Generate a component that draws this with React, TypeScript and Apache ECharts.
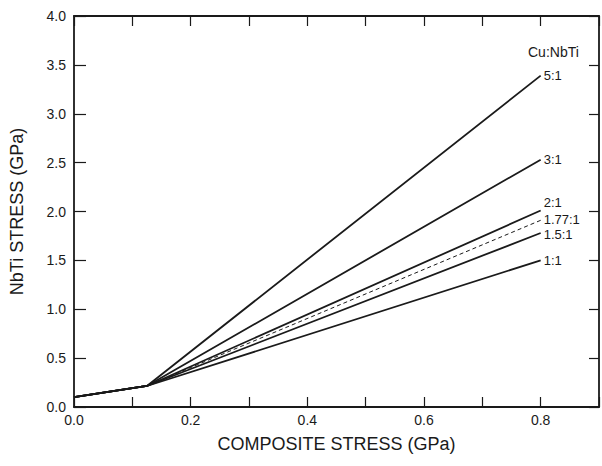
import React, { useEffect, useRef } from "react";
import * as echarts from "echarts";

const ratioLabels = ["5:1", "3:1", "2:1", "1.77:1", "1.5:1", "1:1"];
const xPoints = [0, 0.125, 0.8];
const startStress = [0.1, 0.215];
const endStress = [3.39, 2.53, 2.01, 1.91, 1.78, 1.5];
const dashed = [false, false, false, true, false, false];
const labelOffsets: [number, number][] = [[0, 0], [0, 0], [0, -8], [0, -1], [0, 1], [0, 0]];
const xTickLabels = ["0.0", "0.2", "0.4", "0.6", "0.8"];
const yTickLabels = ["0.0", "0.5", "1.0", "1.5", "2.0", "2.5", "3.0", "3.5", "4.0"];

const FONT = '"Liberation Sans", Arial, Helvetica, sans-serif';
const INK = "#1a1a1a";

export default function App() {
  const ref = useRef<HTMLDivElement>(null);
  useEffect(() => {
    document.body.style.margin = "0";
    const chart = echarts.init(ref.current!, null, { renderer: "svg" });
    const series = ratioLabels.map((name, i) => ({
      name,
      type: "line",
      data: [
        [xPoints[0], startStress[0]],
        [xPoints[1], startStress[1]],
        [xPoints[2], endStress[i]],
      ],
      symbol: "none",
      lineStyle: {
        color: INK,
        width: dashed[i] ? 1 : 1.8,
        type: dashed[i] ? [4, 3] : "solid",
      },
      endLabel: {
        show: true,
        formatter: name,
        color: INK,
        fontFamily: FONT,
        fontSize: 13,
        distance: 3,
        offset: labelOffsets[i],
      },
      z: dashed[i] ? 3 : 2,
    }));
    const axisLine = { show: true, onZero: false, lineStyle: { color: INK, width: 1.8 } };
    const tick = { show: true, inside: true, length: 10, lineStyle: { color: INK, width: 1.2 } };
    chart.setOption({
      animation: false,
      backgroundColor: "#ffffff",
      grid: { left: 74, right: 1, top: 16, bottom: 59 },
      xAxis: [
        {
          type: "value",
          min: 0,
          max: 0.9,
          interval: 0.1,
          position: "bottom",
          axisLine,
          axisTick: tick,
          splitLine: { show: false },
          axisLabel: {
            color: INK,
            fontFamily: FONT,
            fontSize: 14,
            margin: 6,
            formatter: (v: number) => {
              const k = Math.round(v * 10);
              return k % 2 === 0 && k / 2 < xTickLabels.length ? xTickLabels[k / 2] : "";
            },
          },
          name: "COMPOSITE STRESS (GPa)",
          nameLocation: "middle",
          nameGap: 28,
          nameTextStyle: { color: INK, fontFamily: FONT, fontSize: 18 },
        },
        {
          type: "value",
          min: 0,
          max: 0.9,
          interval: 0.1,
          position: "top",
          axisLine,
          axisTick: tick,
          axisLabel: { show: false },
          splitLine: { show: false },
        },
      ],
      yAxis: [
        {
          type: "value",
          min: 0,
          max: 4,
          interval: 0.5,
          position: "left",
          axisLine,
          axisTick: { ...tick, length: 12 },
          splitLine: { show: false },
          axisLabel: {
            color: INK,
            fontFamily: FONT,
            fontSize: 14,
            margin: 8,
            formatter: (v: number) => yTickLabels[Math.round(v * 2)] ?? "",
          },
          name: "NbTi STRESS (GPa)",
          nameLocation: "middle",
          nameGap: 48,
          nameTextStyle: { color: INK, fontFamily: FONT, fontSize: 18 },
        },
        {
          type: "value",
          min: 0,
          max: 4,
          interval: 0.5,
          position: "right",
          axisLine,
          axisTick: tick,
          axisLabel: { show: false },
          splitLine: { show: false },
        },
      ],
      graphic: [
        {
          type: "text",
          left: 528,
          top: 45,
          style: { text: "Cu:NbTi", fill: INK, font: `14px ${FONT}` },
        },
      ],
      series,
    });
    return () => chart.dispose();
  }, []);
  return <div ref={ref} style={{ width: 602, height: 466 }} />;
}
